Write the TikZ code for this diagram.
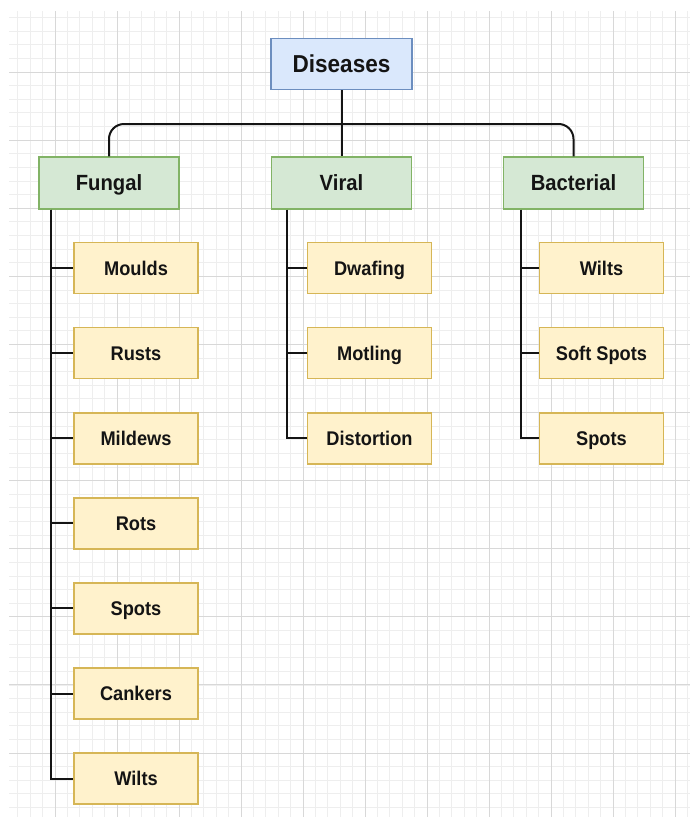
\documentclass[tikz,border=0pt]{standalone}
\usepackage{fontspec}
\setmainfont{Liberation Sans}[FakeStretch=0.92]
\usetikzlibrary{calc}
\definecolor{bluefill}{HTML}{DAE8FC}
\definecolor{blueline}{HTML}{6C8EBF}
\definecolor{greenfill}{HTML}{D5E8D4}
\definecolor{greenline}{HTML}{82B366}
\definecolor{yellowfill}{HTML}{FFF2CC}
\definecolor{yellowline}{HTML}{D6B656}
\definecolor{majorgrid}{HTML}{D8D8D8}
\definecolor{minorgrid}{HTML}{EEEEEE}
\definecolor{ink}{HTML}{141414}
\tikzset{
  box/.style={draw, line width=1.5pt, minimum height=51pt, inner sep=0pt, text=ink, font=\bfseries, text depth=0pt},
  rootbox/.style={box, fill=bluefill, draw=blueline, minimum width=141pt, text height=17.5pt, font=\bfseries\fontsize{24.5}{28}\selectfont},
  catbox/.style={box, fill=greenfill, draw=greenline, minimum width=140pt, minimum height=52pt, text height=15.8pt, font=\bfseries\fontsize{22}{26}\selectfont},
  leafbox/.style={box, fill=yellowfill, draw=yellowline, minimum width=124pt, text height=14.2pt, font=\bfseries\fontsize{19.8}{23}\selectfont},
  link/.style={draw=ink, line width=2pt},
}
\begin{document}
\begin{tikzpicture}[x=1pt, y=-1pt]
\useasboundingbox (0,0) rectangle (690,817);
\fill[white] (0,0) rectangle (690,817);
% minor grid
\foreach \i in {-3,...,51} {
  \pgfmathsetmacro{\gx}{55+12.4*\i}
  \ifdim \gx pt>9pt \ifdim \gx pt<690pt
    \draw[minorgrid, line width=0.8pt] (\gx,11) -- (\gx,817);
  \fi\fi
}
\foreach \i in {-4,...,55} {
  \pgfmathsetmacro{\gy}{72+13.62*\i}
  \ifdim \gy pt>11pt \ifdim \gy pt<817pt
    \draw[minorgrid, line width=0.8pt] (9,\gy) -- (690,\gy);
  \fi\fi
}
% major grid
\foreach \i in {0,...,10} {
  \draw[majorgrid, line width=1pt] ({55+62*\i},11) -- ({55+62*\i},817);
}
\foreach \i in {0,...,10} {
  \draw[majorgrid, line width=1pt] (9,{72+68.1*\i}) -- (690,{72+68.1*\i});
}

% nodes
\node[rootbox] (dis) at (341.5,64) {Diseases};
\node[catbox] (fun) at (109,183) {Fungal};
\node[catbox] (vir) at (341.5,183) {Viral};
\node[catbox] (bac) at (573.5,183) {Bacterial};

\node[leafbox] (f1) at (136,268.2) {Moulds};
\node[leafbox] (f2) at (136,353.2) {Rusts};
\node[leafbox] (f3) at (136,438.3) {Mildews};
\node[leafbox] (f4) at (136,523.4) {Rots};
\node[leafbox] (f5) at (136,608.4) {Spots};
\node[leafbox] (f6) at (136,693.5) {Cankers};
\node[leafbox] (f7) at (136,778.5) {Wilts};

\node[leafbox] (v1) at (369.5,268.2) {Dwafing};
\node[leafbox] (v2) at (369.5,353.2) {Motling};
\node[leafbox] (v3) at (369.5,438.3) {Distortion};

\node[leafbox] (b1) at (601.5,268.2) {Wilts};
\node[leafbox] (b2) at (601.5,353.2) {Soft Spots};
\node[leafbox] (b3) at (601.5,438.3) {Spots};

% bus
\coordinate (bus) at (341.5,124);
\draw[link, rounded corners=15pt] (fun.north) |- (bus) -| (bac.north);
\draw[link] (dis.south) -- (vir.north);

% trunks
\coordinate (ft) at ($(fun.south west)+(13,0)$);
\coordinate (vt) at ($(vir.south west)+(16,0)$);
\coordinate (bt) at ($(bac.south west)+(18,0)$);
\foreach \n in {f1,f2,f3,f4,f5,f6,f7} { \draw[link] (ft) |- (\n.west); }
\foreach \n in {v1,v2,v3} { \draw[link] (vt) |- (\n.west); }
\foreach \n in {b1,b2,b3} { \draw[link] (bt) |- (\n.west); }
\end{tikzpicture}
\end{document}
